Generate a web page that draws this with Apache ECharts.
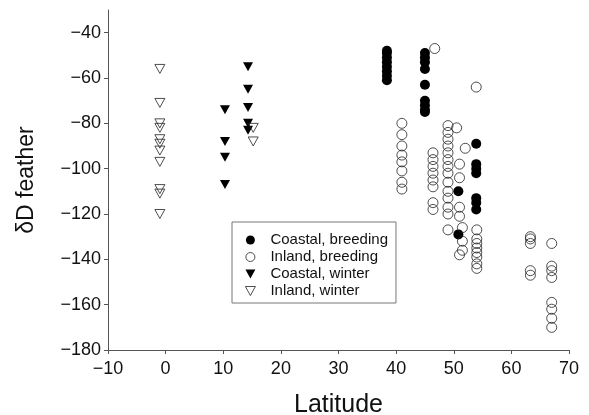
<!DOCTYPE html>
<html>
<head>
<meta charset="utf-8">
<script src="https://cdn.jsdelivr.net/npm/echarts@6/dist/echarts.min.js"></script>
<style>
  html, body { margin: 0; padding: 0; background: #fff; }
  #biao1 { width: 589px; height: 415px; }
</style>
</head>
<body>
<div id="biao1"></div>
<script>
// series names (legend)
var seriesNames = ['Coastal, breeding', 'Inland, breeding', 'Coastal, winter', 'Inland, winter'];

// Coastal, breeding
var coastalBreedingLat = [38.4, 38.4, 38.4, 38.4, 38.4, 38.4, 38.4, 38.4,
  45, 45, 45, 45, 45, 45, 45, 45, 45,
  50.8, 50.8,
  53.9, 53.9, 53.9, 53.9, 53.9, 53.9, 53.9];
var coastalBreedingD = [-48, -49, -51, -53, -55, -57, -59, -61,
  -49, -51, -53, -56, -63, -70, -72, -74, -75,
  -110, -129,
  -89, -98, -100, -102, -113, -115, -118];

// Inland, breeding
var inlandBreedingLat = [41, 41, 41, 41, 41, 41, 41, 41,
  46.7,
  46.4, 46.4, 46.4, 46.4, 46.4, 46.4, 46.4, 46.4,
  49, 49, 49, 49, 49, 49, 49, 49, 49, 49, 49, 49, 49, 49,
  50.5, 52, 51, 51, 51, 51, 51.5, 51.5, 51.5, 51,
  53.9,
  54, 54, 54, 54, 54, 54, 54, 54,
  63.3, 63.3, 63.3, 63.3, 63.3,
  67, 67, 67, 67, 67, 67, 67, 67];
var inlandBreedingD = [-80, -85, -90, -94, -97, -101, -106, -109,
  -47,
  -93, -96, -99, -102, -105, -108, -115, -118,
  -81, -84, -87, -90, -93, -96, -99, -102, -106, -110, -113, -117, -120, -127,
  -82, -91, -98, -104, -117, -121, -126, -132, -136, -138,
  -64,
  -127, -131, -133, -135, -137, -139, -142, -144,
  -130, -131, -133, -145, -147,
  -133, -143, -145, -148, -159, -162, -166, -170];

// Coastal, winter
var coastalWinterLat = [10.3, 10.3, 10.3, 10.3, 14.3, 14.3, 14.3, 14.3, 14.3];
var coastalWinterD = [-74, -88, -95, -107, -55, -65, -73, -80, -83];

// Inland, winter
var inlandWinterLat = [-1, -1, -1, -1, -1, -1, -1, -1, -1, -1, -1, 15.2, 15.2];
var inlandWinterD = [-56, -71, -80, -82, -87, -89, -92, -97, -109, -111, -120, -82, -88];

// axis ticks
var xTicks = [-10, 0, 10, 20, 30, 40, 50, 60, 70];
var yTicks = [-180, -160, -140, -120, -100, -80, -60, -40];

function pairs(lat, d) {
  var out = [];
  for (var i = 0; i < lat.length; i++) {
    out.push([lat[i], d[i]]);
  }
  return out;
}

function minusLabel(v) {
  return v < 0 ? '\u2212' + Math.abs(v) : String(v);
}

var font = 'Liberation Sans, Arial, Helvetica, sans-serif';
var downTri = 'path://M0,0L10,0L5,9Z';

var dom = document.getElementById('biao1');
var myChart = echarts.init(dom, null, { renderer: 'canvas' });

var option = {
  animation: false,
  backgroundColor: '#fff',
  textStyle: { fontFamily: font },
  grid: { left: 108, right: 20, top: 10, bottom: 65, containLabel: false, outerBoundsMode: 'none' },
  legend: {
    orient: 'vertical',
    left: 232,
    top: 222,
    data: seriesNames,
    itemWidth: 30,
    itemHeight: 9,
    itemGap: 1,
    padding: [10, 8, 4, 13],
    borderColor: '#777',
    borderWidth: 1,
    itemStyle: { borderWidth: 0.8 },
    textStyle: { fontFamily: font, fontSize: 15, color: '#111', lineHeight: 16 }
  },
  xAxis: {
    type: 'value',
    min: -10,
    max: 70,
    interval: 10,
    name: 'Latitude',
    nameLocation: 'middle',
    nameGap: 43,
    nameTextStyle: { fontFamily: font, fontSize: 25, color: '#111' },
    splitLine: { show: false },
    axisLine: { onZero: false, lineStyle: { color: '#555', width: 1 } },
    axisTick: { length: 4, lineStyle: { color: '#555' }, customValues: xTicks },
    axisLabel: { fontFamily: font, fontSize: 18, color: '#111', margin: 10, customValues: xTicks, formatter: minusLabel }
  },
  yAxis: {
    type: 'value',
    min: -180,
    max: -30,
    interval: 20,
    name: '\u03b4D feather',
    nameLocation: 'middle',
    nameGap: 70,
    nameTextStyle: { fontFamily: font, fontSize: 23, color: '#111' },
    splitLine: { show: false },
    axisLine: { show: true, onZero: false, lineStyle: { color: '#555', width: 1 } },
    axisTick: { show: true, length: 4, lineStyle: { color: '#555' }, customValues: yTicks },
    axisLabel: { fontFamily: font, fontSize: 18, color: '#111', margin: 7, customValues: yTicks, formatter: minusLabel }
  },
  series: [
    {
      name: seriesNames[0],
      type: 'scatter',
      symbol: 'circle',
      symbolSize: 10,
      itemStyle: { color: '#000', opacity: 1 },
      data: pairs(coastalBreedingLat, coastalBreedingD)
    },
    {
      name: seriesNames[1],
      type: 'scatter',
      symbol: 'circle',
      symbolSize: 10,
      itemStyle: { color: 'rgba(255,255,255,0)', borderColor: '#222', borderWidth: 0.8, opacity: 1 },
      data: pairs(inlandBreedingLat, inlandBreedingD)
    },
    {
      name: seriesNames[2],
      type: 'scatter',
      symbol: downTri,
      symbolSize: [10, 9],
      itemStyle: { color: '#000', opacity: 1 },
      data: pairs(coastalWinterLat, coastalWinterD)
    },
    {
      name: seriesNames[3],
      type: 'scatter',
      symbol: downTri,
      symbolSize: [10, 9],
      itemStyle: { color: 'rgba(255,255,255,0)', borderColor: '#222', borderWidth: 0.8, opacity: 1 },
      data: pairs(inlandWinterLat, inlandWinterD)
    }
  ]
};

myChart.setOption(option);
window.addEventListener('resize', myChart.resize);
</script>
</body>
</html>
